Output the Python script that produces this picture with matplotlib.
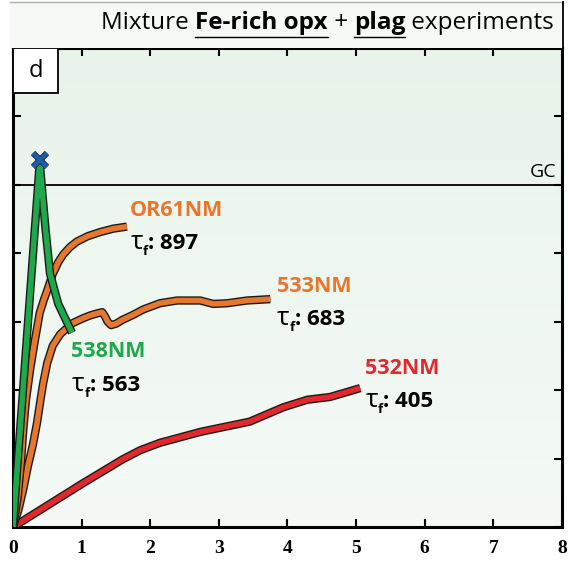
import numpy as np
import matplotlib
matplotlib.use("Agg")
import matplotlib.pyplot as plt
import matplotlib.patheffects as pe
from matplotlib.patches import Rectangle
from matplotlib.lines import Line2D
from matplotlib.transforms import offset_copy

plt.rcParams['font.family'] = ['Open Sans', 'DejaVu Sans']

# кривые
x_538 = [0, 0.39, 0.47, 0.54, 0.66, 0.86]
y_538 = [0, 5.33, 4.40, 3.70, 3.26, 2.84]

x_or61 = [0, 0.03, 0.07, 0.12, 0.15, 0.19, 0.25, 0.32, 0.39, 0.45, 0.50, 0.58, 0.66,
          0.73, 0.83, 0.93, 1.09, 1.27, 1.46, 1.66]
y_or61 = [0, 0.18, 0.44, 0.98, 1.42, 1.86, 2.30, 2.73, 3.13, 3.32, 3.46, 3.70, 3.87,
          3.98, 4.09, 4.17, 4.25, 4.31, 4.36, 4.39]

x_533 = [0, 0.08, 0.15, 0.22, 0.29, 0.35, 0.40, 0.44, 0.50, 0.58, 0.69, 0.87, 1.02,
         1.12, 1.22, 1.30, 1.34, 1.38, 1.43, 1.50, 1.60, 1.75, 1.90, 2.14, 2.39,
         2.73, 2.92, 3.12, 3.41, 3.75]
y_533 = [0, 0.25, 0.55, 0.90, 1.20, 1.52, 1.85, 2.10, 2.40, 2.65, 2.82, 2.98, 3.05,
         3.09, 3.12, 3.14, 3.08, 3.00, 2.95, 2.97, 3.03, 3.10, 3.18, 3.27, 3.31,
         3.31, 3.26, 3.27, 3.31, 3.33]

x_532 = [0, 1.02, 1.60, 1.85, 2.14, 2.73, 3.45, 3.94, 4.29, 4.62, 5.06]
y_532 = [0, 0.64, 0.99, 1.12, 1.23, 1.39, 1.54, 1.75, 1.86, 1.90, 2.03]

peak_x, peak_y = 0.39, 5.37
gc_level = 5

names = ['OR61NM', '533NM', '538NM', '532NM']
tau = [897, 683, 563, 405]
label_x = [1.70, 3.84, 0.85, 5.13]
label_y = [4.63, 3.52, 2.56, 2.32]

c_green = '#1da84c'
c_orange = '#e8772e'
c_red = '#e3282d'
c_blue = '#1f5aa6'

fig = plt.figure(figsize=(5.69, 5.61), dpi=100)
ax = fig.add_axes([0.0228, 0.0606, 0.9649, 0.8538])

# фон с градиентом
grad = np.linspace(0, 1, 256).reshape(-1, 1)
top = np.array([0.91, 0.955, 0.92])
bot = np.array([0.96, 0.98, 0.965])
img = top[None, None, :] * (1 - grad[:, :, None]) + bot[None, None, :] * grad[:, :, None]
ax.imshow(img, extent=[0, 8, 0, 7], aspect='auto', zorder=0, origin='upper')

ax.axhline(gc_level, color='black', lw=1.3, zorder=1)
ax.text(7.92, gc_level + 0.05, 'GC', ha='right', va='bottom', fontsize=14)

outline = [pe.Stroke(linewidth=6.0, foreground='#1a1a1a'), pe.Normal()]

def draw(x, y, c):
    ax.plot(x, y, color=c, lw=4.0, solid_capstyle='butt', solid_joinstyle='round',
            zorder=3, path_effects=outline)

draw(x_532, y_532, c_red)
draw(x_533, y_533, c_orange)
draw(x_or61, y_or61, c_orange)
draw(x_538, y_538, c_green)
ax.plot(peak_x, peak_y, marker='x', ms=10, mew=3.2, color=c_blue, zorder=4,
        path_effects=[pe.Stroke(linewidth=4.5, foreground='#1a2a4a'), pe.Normal()])

ax.set_xlim(0, 8)
ax.set_ylim(0, 7)
ax.set_xticks(range(0, 9))
ax.set_yticks(range(0, 8))
ax.set_yticklabels([])
ax.tick_params(direction='in', length=6, width=1.5, top=True, right=True, pad=9)
for lab in ax.get_xticklabels():
    lab.set_fontfamily('Liberation Serif')
    lab.set_fontweight('bold')
    lab.set_fontsize(14)
for s in ax.spines.values():
    s.set_linewidth(2.2)

fig.canvas.draw()
renderer = fig.canvas.get_renderer()

# подписи кривых
label_colors = [c_orange, c_orange, c_green, c_red]
for nm, t, lx, ly, c in zip(names, tau, label_x, label_y, label_colors):
    ax.text(lx, ly, nm, color=c, fontsize=15.5, fontweight='bold', ha='left', va='center', zorder=5)
    by = ly - 0.57
    t1 = ax.text(lx + 0.01, by, 'τ', fontsize=19, va='baseline', ha='left', zorder=5)
    w1 = t1.get_window_extent(renderer).width
    t2 = ax.text(lx + 0.01, by, 'f', fontsize=9.5, fontweight='bold', va='baseline', ha='left',
                 zorder=5, transform=offset_copy(ax.transData, fig, x=w1, y=-6, units='dots'))
    w2 = t2.get_window_extent(renderer).width
    ax.text(lx + 0.01, by, ': ' + str(t), fontsize=16, fontweight='bold', va='baseline', ha='left',
            zorder=5, transform=offset_copy(ax.transData, fig, x=w1 + w2, y=0, units='dots'))

# метка панели
ax.add_patch(Rectangle((0, 6.34), 0.66, 0.66, facecolor='white', edgecolor='black',
                       lw=1.3, zorder=6, transform=ax.transData, clip_on=False))
ax.text(0.33, 6.67, 'd', ha='center', va='center', fontsize=17, zorder=7)

# заголовок в рамке
W, H = fig.get_size_inches() * fig.dpi
fig.patches.append(Rectangle((10 / W, 1 - 48 / H), (563 - 10) / W, 46 / H,
                             transform=fig.transFigure, facecolor='#f6f9f6',
                             edgecolor='none', zorder=0))
fig.lines.append(Line2D([10 / W, 563 / W], [1 - 2 / H, 1 - 2 / H], transform=fig.transFigure,
                        color='#b0b0b0', lw=1.0))
fig.lines.append(Line2D([563 / W, 563 / W], [1 - 2 / H, 1 - 48 / H], transform=fig.transFigure,
                        color='black', lw=1.3))

pieces = [('Mixture ', 'normal', False), ('Fe-rich opx', 'bold', True), (' + ', 'normal', False),
          ('plag', 'bold', True), (' experiments', 'normal', False)]
texts = []
widths = []
for s, w, u in pieces:
    t = fig.text(0, 1 - 23 / H, s, fontsize=17.5, fontweight=w, va='center', ha='left')
    texts.append(t)
    widths.append(t.get_window_extent(renderer).width)
xpos = 554 - sum(widths)
for (s, w, u), t, wd in zip(pieces, texts, widths):
    t.set_x(xpos / W)
    if u:
        fig.lines.append(Line2D([xpos / W, (xpos + wd) / W], [1 - 37 / H, 1 - 37 / H],
                                transform=fig.transFigure, color='black', lw=1.0))
    xpos += wd

fig.savefig('out.png', dpi=100)
